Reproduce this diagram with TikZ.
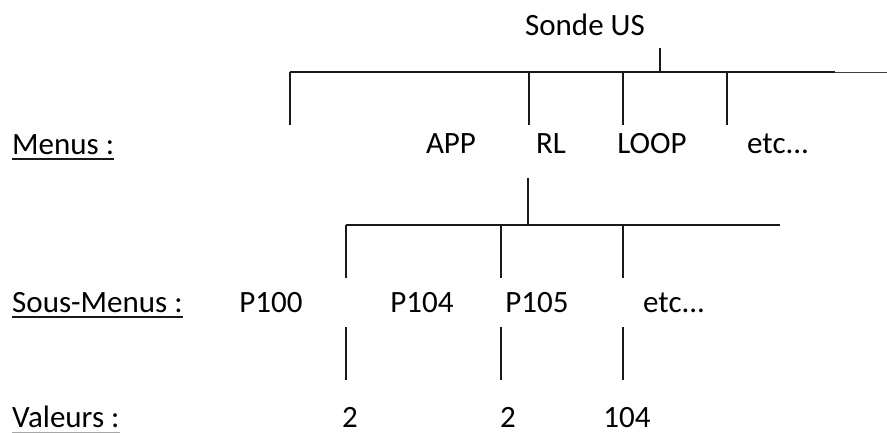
\documentclass[tikz,border=0pt]{standalone}
\usepackage{fontspec}
\setmainfont{Carlito}
\begin{document}
\begin{tikzpicture}[x=1pt,y=-1pt,
  lbl/.style={inner sep=0pt,font=\fontsize{31}{37}\selectfont},
  leftlbl/.style={lbl,anchor=base west},
  midlbl/.style={lbl,anchor=base},
  branch/.style={line width=1.8pt,black!90},
  ul/.style={line width=1.8pt,black!90}]
\useasboundingbox (0,0) rectangle (887,433);

% root
\node[midlbl] (sonde) at (585,36) {Sonde US};

% row titles
\node[leftlbl] (menus) at (12,155) {Menus :};
\node[leftlbl] (sousmenus) at (12,312) {Sous-Menus :};
\node[leftlbl] (valeurs) at (12,427) {Valeurs :};
\draw[ul] ([yshift=-4pt]menus.base west) -- ([yshift=-4pt]menus.base east);
\draw[ul] ([yshift=-5pt]sousmenus.base west) -- ([yshift=-5pt]sousmenus.base east);
\draw[line width=0.8pt,black!35] ([yshift=-5.5pt]valeurs.base west) -- ([yshift=-5.5pt]valeurs.base east);

% menus
\node[midlbl] (app) at (451,154) {APP};
\node[midlbl] (rl) at (551,154) {RL};
\node[midlbl] (loop) at (652,154) {LOOP};
\node[leftlbl] (etcA) at (747,154) {etc...};

% sub-menus of RL
\node[midlbl] (p100) at (271,312) {P100};
\node[midlbl] (p104) at (422,312) {P104};
\node[midlbl] (p105) at (537,312) {P105};
\node[leftlbl] (etcB) at (643,312) {etc...};

% values
\node[midlbl] (v1) at (350,427) {2};
\node[midlbl] (v2) at (508,427) {2};
\node[midlbl] (v3) at (627,427) {104};

% first level tree
\coordinate (rootstub) at (660,48);
\coordinate (rootjoin) at (660,72);
\coordinate (barA) at (290,72);
\coordinate (barAend) at (835,72);
\coordinate (barAedge) at (887,72);
\draw[branch] (rootstub) -- (rootjoin);
\draw[branch] (barA) -- (barAend);
\draw[line width=0.9pt,black!75] (barAend) -- (barAedge);
\foreach \x/\n in {290/a,529/b,623/c,727/d}{
  \coordinate (ta\n) at (\x,72);
  \coordinate (ba\n) at (\x,125);
  \draw[branch] (ta\n) -- (ba\n);
}

% second level tree (below RL)
\coordinate (rlstub) at (528,178);
\coordinate (rljoin) at (528,225);
\coordinate (barB) at (346,225);
\coordinate (barBend) at (780,225);
\draw[branch] (rlstub) -- (rljoin);
\draw[branch] (barB) -- (barBend);
\foreach \x/\n in {346/a,501/b,623/c}{
  \coordinate (tb\n) at (\x,225);
  \coordinate (bb\n) at (\x,278);
  \draw[branch] (tb\n) -- (bb\n);
  \coordinate (tc\n) at (\x,327);
  \coordinate (bc\n) at (\x,380);
  \draw[branch] (tc\n) -- (bc\n);
}
\end{tikzpicture}
\end{document}
